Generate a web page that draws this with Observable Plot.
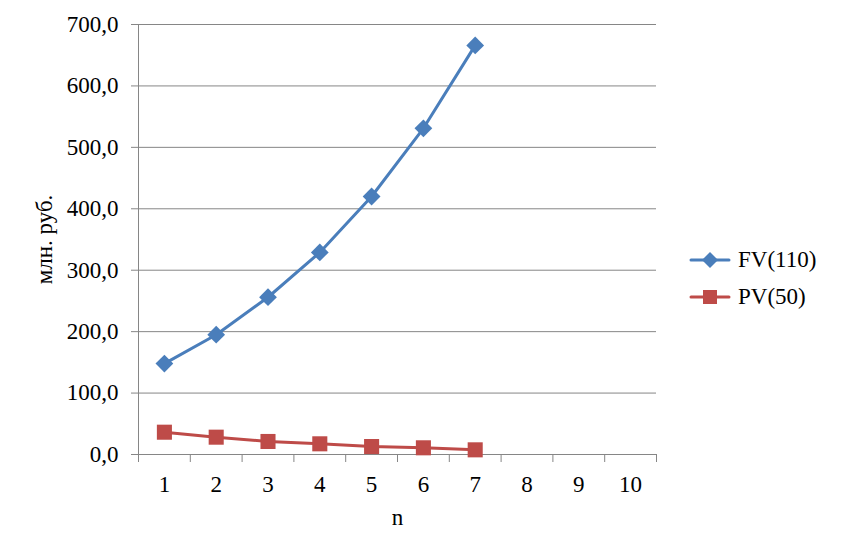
<!DOCTYPE html>
<html>
<head>
<meta charset="utf-8">
<script src="https://cdn.jsdelivr.net/npm/d3@7"></script>
<script src="https://cdn.jsdelivr.net/npm/@observablehq/plot@0.6"></script>
</head>
<body style="margin:0;padding:0;background:#fff;font-family:'Liberation Serif',serif">
<div id="wrap" style="position:relative;width:844px;height:558px;font-family:'Liberation Serif',serif"></div>
<script>
const periods = [1, 2, 3, 4, 5, 6, 7, 8, 9, 10];
const fvValues = [148, 195, 256, 329, 420, 531, 666];
const pvValues = [36.3, 28.2, 21.2, 17.4, 13, 10.9, 7.6];
const seriesNames = ["FV(110)", "PV(50)"];
const seriesColors = ["#4A7EBB", "#BE4B48"];
const yTicks = [0, 100, 200, 300, 400, 500, 600, 700];

const fvData = fvValues.map((v, i) => ({n: periods[i], v}));
const pvData = pvValues.map((v, i) => ({n: periods[i], v}));
const bandEdges = [0, ...periods].map(d => d + 0.5);
const fmt = d => d.toFixed(1).replace(".", ",");
const serif = "'Liberation Serif', serif";
const FS = 23;

const chart = Plot.plot({
  width: 844,
  height: 558,
  marginLeft: 138,
  marginRight: 188,
  marginTop: 24,
  marginBottom: 104,
  style: {fontFamily: serif, fontSize: FS + "px", color: "#000", background: "#fff"},
  x: {domain: [0.5, 10.5]},
  y: {domain: [0, 700]},
  marks: [
    Plot.gridY(yTicks, {stroke: "#868686", strokeOpacity: 1, strokeWidth: 1}),
    Plot.axisY(yTicks, {tickFormat: fmt, tickSize: 7, tickPadding: 13, stroke: "#868686", fontSize: FS,
      label: "млн. руб.", labelAnchor: "center", labelArrow: "none", labelOffset: 103}),
    Plot.ruleX([0.5], {stroke: "#868686"}),
    Plot.axisX(bandEdges, {tickFormat: () => "", tickSize: 8, stroke: "#868686", label: null}),
    Plot.axisX(periods, {tickSize: 0, tickPadding: 21, fontSize: FS, tickFormat: d => String(d),
      label: "n", labelAnchor: "center", labelArrow: "none", labelOffset: 70}),
    Plot.line(pvData, {x: "n", y: "v", stroke: seriesColors[1], strokeWidth: 3}),
    Plot.dot(pvData, {x: "n", y: "v", symbol: "square", fill: seriesColors[1], r: 8.5}),
    Plot.line(fvData, {x: "n", y: "v", stroke: seriesColors[0], strokeWidth: 3}),
    Plot.dot(fvData, {x: "n", y: "v", symbol: "diamond2", fill: seriesColors[0], r: 8})
  ]
});
chart.querySelectorAll("text").forEach(el => {
  el.style.fontFamily = serif;
  el.style.fontSize = FS + "px";
});
document.getElementById("wrap").appendChild(chart);

const legend = document.createElement("div");
legend.setAttribute("style", "position:absolute;left:689px;top:241px;font-size:" + FS + "px;color:#000;font-family:'Liberation Serif',serif");
seriesNames.forEach((name, i) => {
  const item = document.createElement("div");
  item.setAttribute("style", "display:flex;align-items:center;height:37px");
  const marker = i === 0
    ? `<polygon points="21,3 29,11 21,19 13,11" fill="${seriesColors[i]}"/>`
    : `<rect x="14" y="4" width="14" height="14" fill="${seriesColors[i]}"/>`;
  item.innerHTML = `<svg width="42" height="22" style="margin-right:7px"><line x1="2" y1="11" x2="40" y2="11" stroke="${seriesColors[i]}" stroke-width="3" stroke-linecap="round"/>${marker}</svg><span>${name}</span>`;
  legend.appendChild(item);
});
document.getElementById("wrap").appendChild(legend);
</script>
</body>
</html>
